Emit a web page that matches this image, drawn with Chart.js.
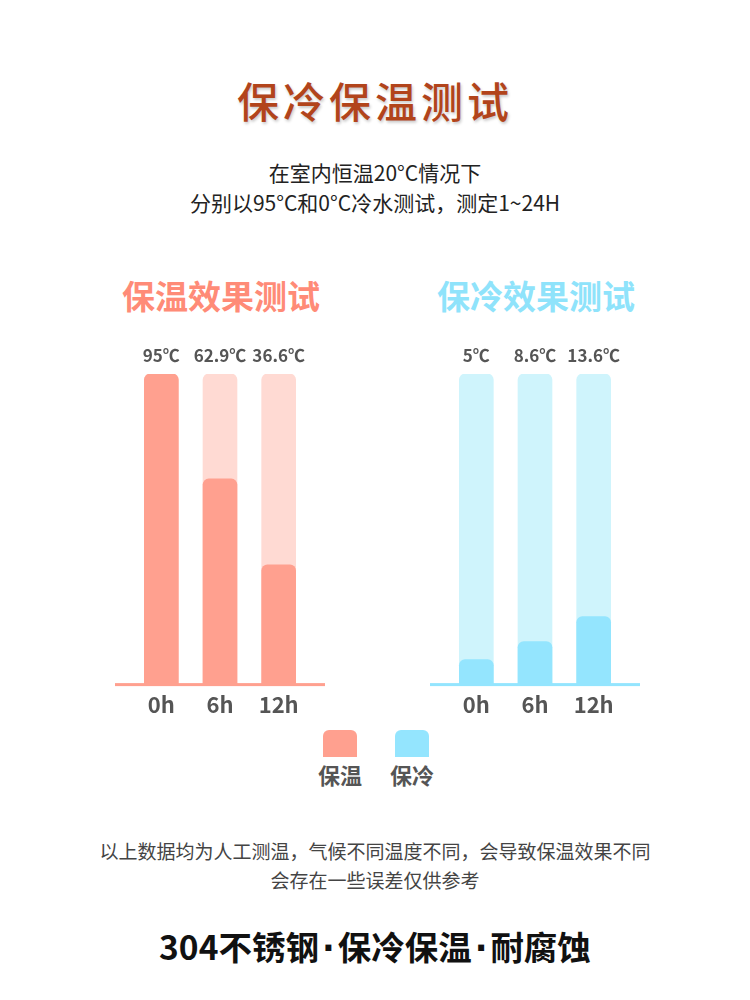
<!DOCTYPE html>
<html>
<head>
<meta charset="utf-8">
<script src="https://cdn.jsdelivr.net/npm/chart.js@4/dist/chart.umd.min.js"></script>
<style>
  html, body { margin: 0; padding: 0; background: #fff; }
  body { width: 750px; height: 1000px; position: relative; overflow: hidden;
         font-family: 'Noto Sans CJK SC', sans-serif; }
  .t { position: absolute; left: 0; width: 750px; text-align: center; white-space: nowrap; }
  #title { top: 72px; font-size: 42px; line-height: 56px; font-weight: 500; color: #b2441b;
           letter-spacing: 4px; text-shadow: 1px 2px 3px rgba(0,0,0,0.22); }
  #sub { top: 157px; font-size: 21px; line-height: 30px; color: #222; }
  .ptitle { position: absolute; width: 300px; text-align: center; font-size: 33px; line-height: 44px;
            font-weight: bold; top: 273px; }
  canvas { position: absolute; }
  .sw { position: absolute; top: 730px; width: 34px; height: 27px; border-radius: 6px 6px 0 0; }
  .lg { position: absolute; top: 760px; width: 80px; text-align: center; font-size: 22px; line-height: 28px;
        font-weight: bold; color: #555; }
  #note { top: 836px; font-size: 19px; line-height: 29px; color: #444; }
  #bottom { top: 924px; font-size: 33.5px; line-height: 44px; font-weight: bold; color: #111; }
  .dot { font-family: 'DejaVu Sans', sans-serif; margin: 0 3px; }
</style>
</head>
<body>
<div class="t" id="title">保冷保温测试</div>
<div class="t" id="sub">在室内恒温20°C情况下<br>分别以95°C和0°C冷水测试，测定1~24H</div>
<div class="ptitle" style="left:71px;color:#ff8b77;">保温效果测试</div>
<div class="ptitle" style="left:386px;color:#8fe3fb;">保冷效果测试</div>
<canvas id="warmChart" width="210" height="400" style="left:115px;top:330px;"></canvas>
<canvas id="coldChart" width="210" height="400" style="left:430px;top:330px;"></canvas>
<div class="sw" style="left:323px;background:#ffa08f;"></div>
<div class="sw" style="left:395px;background:#94e5fe;"></div>
<div class="lg" style="left:300px;">保温</div>
<div class="lg" style="left:372px;">保冷</div>
<div class="t" id="note">以上数据均为人工测温，气候不同温度不同，会导致保温效果不同<br>会存在一些误差仅供参考</div>
<div class="t" id="bottom">304不锈钢<span class="dot">·</span>保冷保温<span class="dot">·</span>耐腐蚀</div>
<script>
// data
const hours = ['0h', '6h', '12h'];
const warmTemps = [95, 62.9, 36.6];
const coldTemps = [5, 8.6, 13.6];
const warmMax = 95;
const coldMax = 62;

Chart.defaults.font.family = "'Noto Sans CJK SC', sans-serif";
Chart.defaults.animation = false;

// baseline across the whole panel + value labels above the bars
const panelDecor = {
    id: 'panelDecor',
    afterDatasetsDraw(chart, args, opts) {
        const ctx = chart.ctx;
        const area = chart.chartArea;
        const xScale = chart.scales.x;
        ctx.save();
        ctx.fillStyle = opts.lineColor;
        ctx.fillRect(0, area.bottom - 1.5, chart.width, 3);
        ctx.fillStyle = '#555';
        ctx.font = "bold 17px 'Noto Sans CJK SC', sans-serif";
        ctx.textAlign = 'center';
        ctx.textBaseline = 'middle';
        chart.data.datasets[0].data.forEach((v, i) => {
            ctx.fillText(v + '℃', xScale.getPixelForValue(i), area.top - 18);
        });
        ctx.restore();
    }
};

function makePanel(id, values, max, fg, bg) {
    return new Chart(document.getElementById(id), {
        type: 'bar',
        data: {
            labels: hours,
            datasets: [
                { data: values, backgroundColor: fg, grouped: false, barThickness: 34, borderRadius: 6, borderSkipped: 'start' },
                { data: hours.map(() => max), backgroundColor: bg, grouped: false, barThickness: 34, borderRadius: 6, borderSkipped: 'start' }
            ]
        },
        options: {
            responsive: false,
            layout: { padding: { top: 44, left: 17, right: 17, bottom: 5 } },
            plugins: {
                legend: { display: false },
                tooltip: { enabled: false },
                panelDecor: { lineColor: fg }
            },
            scales: {
                x: {
                    grid: { display: false, drawTicks: false },
                    border: { display: false },
                    ticks: { color: '#555', padding: 7, font: { size: 22, weight: 'bold' } }
                },
                y: { display: false, min: 0, max: max }
            }
        },
        plugins: [panelDecor]
    });
}

makePanel('warmChart', warmTemps, warmMax, '#ffa08f', '#ffdad3');
makePanel('coldChart', coldTemps, coldMax, '#94e5fe', '#cff4fc');
</script>
</body>
</html>
